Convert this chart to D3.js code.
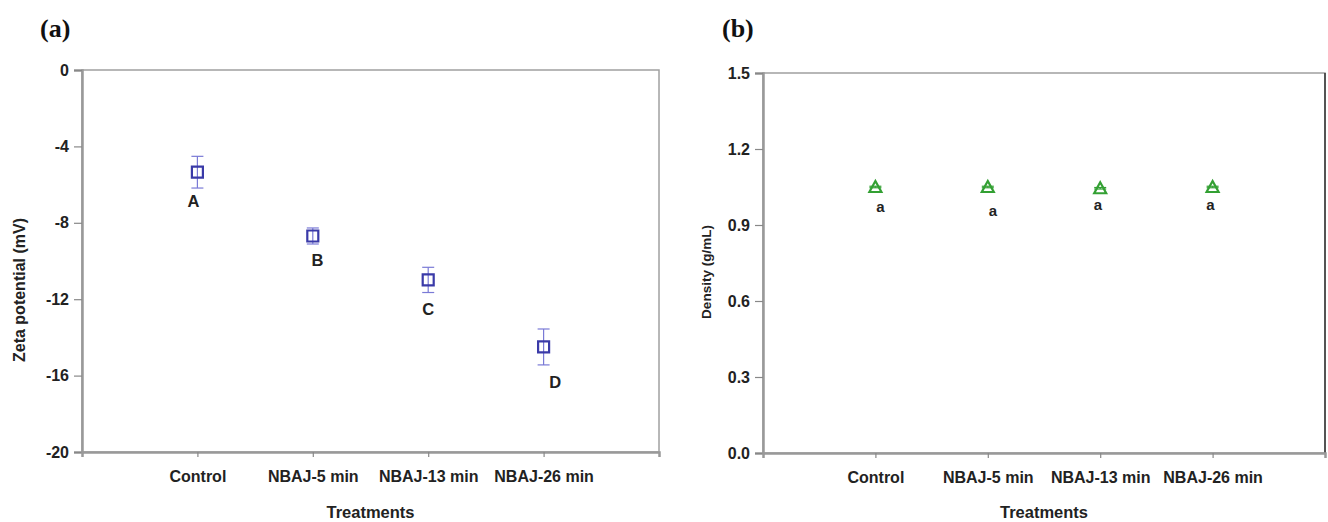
<!DOCTYPE html>
<html>
<head>
<meta charset="utf-8">
<script src="https://cdn.jsdelivr.net/npm/d3@7"></script>
<style>
  body { margin: 0; background: #fff; }
  svg { display: block; font-family: "Liberation Sans", Arial, sans-serif; }
</style>
</head>
<body>
<div id="chart"></div>
<script>
const W = 1328, H = 522

// data
const treatments = ["Control", "NBAJ-5 min", "NBAJ-13 min", "NBAJ-26 min"]

const zetaMean = [-5.35, -8.69, -10.99, -14.5]
const zetaErr = [0.83, 0.42, 0.66, 0.94]
const zetaLetters = ["A", "B", "C", "D"]
// letter anchors in data units (category position, value)
const zetaLetterX = [0.965, 2.04, 3.0, 4.1]
const zetaLetterY = [-6.86, -9.95, -12.51, -16.34]
const zetaTicks = [0, -4, -8, -12, -16, -20]

const densMean = [1.05, 1.05, 1.045, 1.05]
const densErr = [0.003, 0.003, 0.003, 0.003]
const densLetters = ["a", "a", "a", "a"]
const densLetterX = [1.045, 2.045, 2.98, 3.98]
const densLetterY = [0.973, 0.957, 0.98, 0.98]
const densTicks = [0.0, 0.3, 0.6, 0.9, 1.2, 1.5]

const svg = d3.select("#chart").append("svg")
    .attr("width", W)
    .attr("height", H)

function drawPanel(o) {
    const g = svg.append("g")

    const x = d3.scaleLinear().domain([0, 5]).range([o.left, o.right])
    const y = d3.scaleLinear().domain(o.yDomain).range([o.bottom, o.top])

    // frame
    g.append("rect")
        .attr("x", o.left).attr("y", o.top)
        .attr("width", o.right - o.left).attr("height", o.bottom - o.top)
        .attr("fill", "none")
        .attr("stroke", "#a0a0a0")
        .attr("stroke-width", 1.5)
    if (o.rightColor) {
        g.append("line")
            .attr("x1", o.right).attr("x2", o.right)
            .attr("y1", o.top).attr("y2", o.bottom)
            .attr("stroke", o.rightColor).attr("stroke-width", 1.5)
    }

    // y axis
    const yAxis = g.append("g")
        .attr("transform", `translate(${o.left},0)`)
        .call(d3.axisLeft(y).tickValues(o.ticks).tickSize(8).tickPadding(5).tickFormat(o.fmt))
    yAxis.select(".domain").attr("stroke", "#999").attr("stroke-width", 2.5)

    // x axis
    const xAxis = g.append("g")
        .attr("transform", `translate(0,${o.bottom})`)
        .call(d3.axisBottom(x).tickValues([1, 2, 3, 4]).tickSize(5).tickPadding(14)
            .tickFormat(d => treatments[d - 1]))
    xAxis.select(".domain").attr("stroke", "#999").attr("stroke-width", 2.5)

    g.selectAll(".tick line").attr("stroke", "#888").attr("stroke-width", 1.2)
    g.selectAll(".tick text")
        .attr("fill", "#222")
        .attr("font-size", 16)
        .attr("font-weight", "bold")
        .attr("font-family", "'Liberation Sans', Arial, sans-serif")

    // axis titles
    g.append("text")
        .attr("x", (o.left + o.right) / 2)
        .attr("y", 518)
        .attr("text-anchor", "middle")
        .attr("font-size", 16.5)
        .attr("font-weight", "bold")
        .attr("fill", "#222")
        .text("Treatments")

    g.append("text")
        .attr("transform", `translate(${o.yTitleX},${o.yTitleY}) rotate(-90)`)
        .attr("text-anchor", "middle")
        .attr("font-size", o.yTitleSize)
        .attr("font-weight", "bold")
        .attr("fill", "#222")
        .text(o.yTitle)

    // panel label
    g.append("text")
        .attr("x", o.panelX)
        .attr("y", 37)
        .attr("font-family", "'Liberation Serif', 'Times New Roman', serif")
        .attr("font-size", 26)
        .attr("font-weight", "bold")
        .attr("fill", "#111")
        .text(o.panel)

    const pts = o.mean.map((m, i) => ({ i: i + 1, m: m, e: o.err[i] }))

    // error bars
    const eb = g.append("g").attr("stroke", o.errColor).attr("stroke-width", 1.2)
    pts.forEach(p => {
        eb.append("line")
            .attr("x1", x(p.i)).attr("x2", x(p.i))
            .attr("y1", y(p.m + p.e)).attr("y2", y(p.m - p.e))
        ;[p.m + p.e, p.m - p.e].forEach(v => {
            eb.append("line")
                .attr("x1", x(p.i) - 6).attr("x2", x(p.i) + 6)
                .attr("y1", y(v)).attr("y2", y(v))
        })
    })

    // markers
    g.selectAll(".marker")
        .data(pts)
        .enter()
        .append("path")
        .attr("class", "marker")
        .attr("transform", p => `translate(${x(p.i)},${y(p.m)})`)
        .attr("d", o.shape)
        .attr("fill", "none")
        .attr("stroke", o.color)
        .attr("stroke-width", 2.2)

    // significance letters
    g.selectAll(".letter")
        .data(o.letters)
        .enter()
        .append("text")
        .attr("class", "letter")
        .attr("x", (d, i) => x(o.letterX[i]))
        .attr("y", (d, i) => y(o.letterY[i]))
        .attr("dy", "0.36em")
        .attr("text-anchor", "middle")
        .attr("font-size", o.letterSize)
        .attr("font-weight", "bold")
        .attr("fill", "#222")
        .text(d => d)
}

drawPanel({
    left: 82, right: 659, top: 70, bottom: 452,
    yDomain: [-20, 0], ticks: zetaTicks, fmt: d => String(d),
    yTitle: "Zeta potential (mV)", yTitleX: 25, yTitleY: 290, yTitleSize: 16,
    panel: "(a)", panelX: 40,
    mean: zetaMean, err: zetaErr,
    letters: zetaLetters, letterX: zetaLetterX, letterY: zetaLetterY, letterSize: 16.5,
    shape: "M-5.5,-5.5H5.5V5.5H-5.5Z",
    color: "#3a3aa8", errColor: "#7a7ad6"
})

drawPanel({
    left: 763, right: 1325, top: 73, bottom: 453,
    yDomain: [0, 1.5], ticks: densTicks, fmt: d3.format(".1f"),
    yTitle: "Density (g/mL)", yTitleX: 711, yTitleY: 272, yTitleSize: 13.5,
    panel: "(b)", panelX: 722,
    mean: densMean, err: densErr,
    letters: densLetters, letterX: densLetterX, letterY: densLetterY, letterSize: 15,
    shape: "M0,-6L6,5H-6Z",
    color: "#33a033", errColor: "#33a033",
    rightColor: "#333"
})
</script>
</body>
</html>
